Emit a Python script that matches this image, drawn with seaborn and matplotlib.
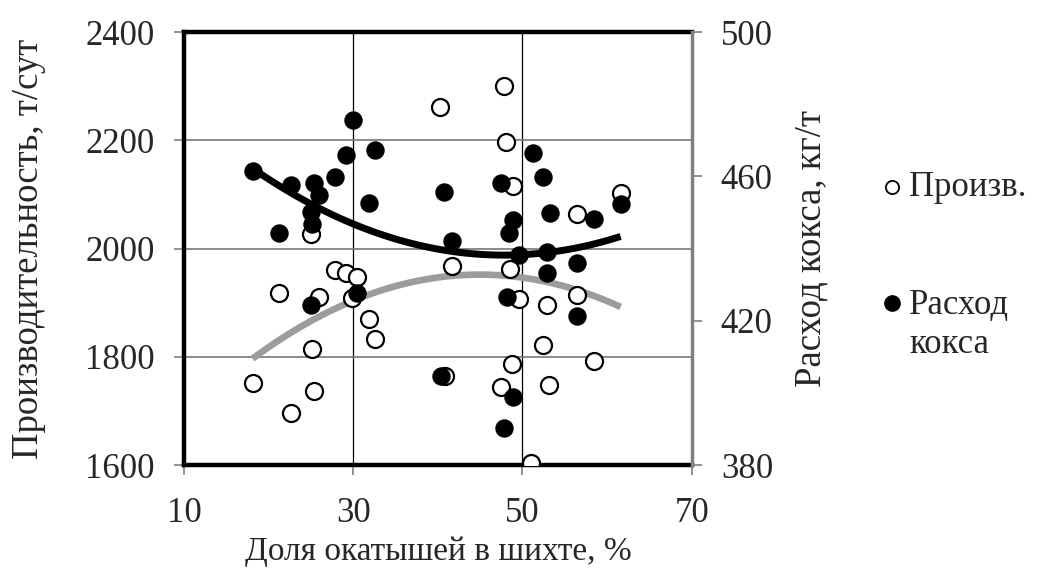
import matplotlib
matplotlib.use("Agg")
import matplotlib.pyplot as plt
import seaborn as sns
import numpy as np
import pandas as pd
from matplotlib.lines import Line2D

# Производительность (left axis)
prod_x = [18.1, 21.2, 22.7, 25.0, 25.1, 25.4, 26.0, 27.9, 29.1, 30.4, 29.8, 31.9, 32.6,
          40.2, 40.8, 41.7, 47.8, 48.1, 48.9, 48.5, 49.6, 48.8, 47.5, 51.0, 52.4, 52.9,
          53.1, 56.5, 56.5, 58.5, 61.6]
prod_y = [1752, 1917, 1697, 2027, 1814, 1737, 1910, 1960, 1954, 1948, 1908, 1869, 1833,
          2262, 1764, 1968, 2301, 2197, 2116, 1962, 1907, 1787, 1744, 1604, 1821, 1896,
          1748, 2064, 1914, 1793, 2102]

# Расход кокса (right axis)
coke_x = [18.1, 21.2, 22.7, 25.4, 26.0, 25.0, 25.1, 27.9, 29.1, 30.0, 32.6, 31.9, 25.0,
          30.4, 40.7, 41.7, 40.4, 47.5, 48.9, 48.4, 49.6, 48.2, 48.9, 47.8, 51.3, 52.4,
          53.2, 52.9, 52.9, 56.5, 56.5, 58.5, 61.6]
coke_y = [461.6, 444.4, 457.6, 458.2, 454.8, 450.2, 446.8, 459.9, 466.0, 475.6, 467.3,
          452.5, 424.3, 427.6, 455.6, 442.0, 404.7, 458.2, 447.9, 444.4, 438.2, 426.5,
          398.8, 390.2, 466.4, 459.9, 449.8, 439.1, 433.1, 435.9, 421.3, 448.3, 452.3]

x_ticks = [10, 30, 50, 70]
left_ticks = [1600, 1800, 2000, 2200, 2400]
right_ticks = [380, 420, 460, 500]
legend_labels = ["Произв.", "Расход\nкокса"]

sns.set_theme(style="white")
plt.rcParams['font.family'] = ['Liberation Serif', 'DejaVu Serif']
plt.rcParams['font.size'] = 24

df_p = pd.DataFrame({"x": prod_x, "y": prod_y})
df_c = pd.DataFrame({"x": coke_x, "y": coke_y})

fig = plt.figure(figsize=(10.37, 5.72), dpi=100)
ax = fig.add_axes([0.1774, 0.187, 0.4896, 0.757])
ax2 = ax.twinx()

fs = 25
# productivity
sns.regplot(data=df_p, x="x", y="y", order=2, ci=None, ax=ax, scatter=False,
            line_kws=dict(color="#9c9c9c", lw=4.8, zorder=3, solid_capstyle="butt"))
ax.scatter(prod_x, prod_y, s=150, facecolor="white", edgecolor="black", linewidth=1.6, zorder=4)

# coke
sns.regplot(data=df_c, x="x", y="y", order=2, ci=None, ax=ax2, scatter=False,
            line_kws=dict(color="black", lw=5.0, zorder=3, solid_capstyle="butt"))
ax2.scatter(coke_x, coke_y, s=150, facecolor="black", edgecolor="black", linewidth=1.0, zorder=4)

ax.set_xlim(10, 70)
ax.set_ylim(1600, 2400)
ax2.set_ylim(380, 500)
ax.set_xticks(x_ticks)
ax.set_yticks(left_ticks)
ax2.set_yticks(right_ticks)
ax.set_xticklabels([str(v) for v in x_ticks], fontsize=fs)
ax.set_yticklabels([str(v) for v in left_ticks], fontsize=fs)
ax2.set_yticklabels([str(v) for v in right_ticks], fontsize=fs)

ax.set_xlabel("Доля окатышей в шихте, %", fontsize=24, labelpad=5)
ax.set_ylabel("Производительность, т/сут", fontsize=26.5, labelpad=28)
ax2.set_ylabel("Расход кокса, кг/т", fontsize=26.5, labelpad=15)

ax.grid(True, axis="x", color="black", lw=0.9)
ax.grid(True, axis="y", color="#777777", lw=1.2)
ax.set_axisbelow(True)

for s in ["left", "top", "bottom"]:
    ax.spines[s].set_color("black")
    ax.spines[s].set_linewidth(3.2)
    ax2.spines[s].set_visible(False)
ax.spines["right"].set_visible(False)
ax2.spines["right"].set_color("#808080")
ax2.spines["right"].set_linewidth(2.5)

ax.tick_params(axis="x", direction="out", length=7, width=1.2, color="#808080", pad=16, bottom=True)
ax.tick_params(axis="y", direction="out", length=7, width=1.2, color="#808080", pad=14, left=True)
ax2.tick_params(axis="y", direction="out", length=7, width=1.2, color="#808080", pad=14, right=True)

# legend (drawn manually to keep marker aligned with first text line)
fig.add_artist(Line2D([0.860], [0.673], transform=fig.transFigure, marker="o", ls="none",
                      markersize=9.5, markerfacecolor="white", markeredgecolor="black",
                      markeredgewidth=1.3))
fig.add_artist(Line2D([0.860], [0.470], transform=fig.transFigure, marker="o", ls="none",
                      markersize=11, markerfacecolor="black", markeredgecolor="black"))
fig.text(0.877, 0.673, legend_labels[0], fontsize=25, va="center", ha="left")
fig.text(0.877, 0.432, legend_labels[1], fontsize=25, va="center", ha="left", linespacing=1.25)

fig.savefig("out.png", dpi=100)
